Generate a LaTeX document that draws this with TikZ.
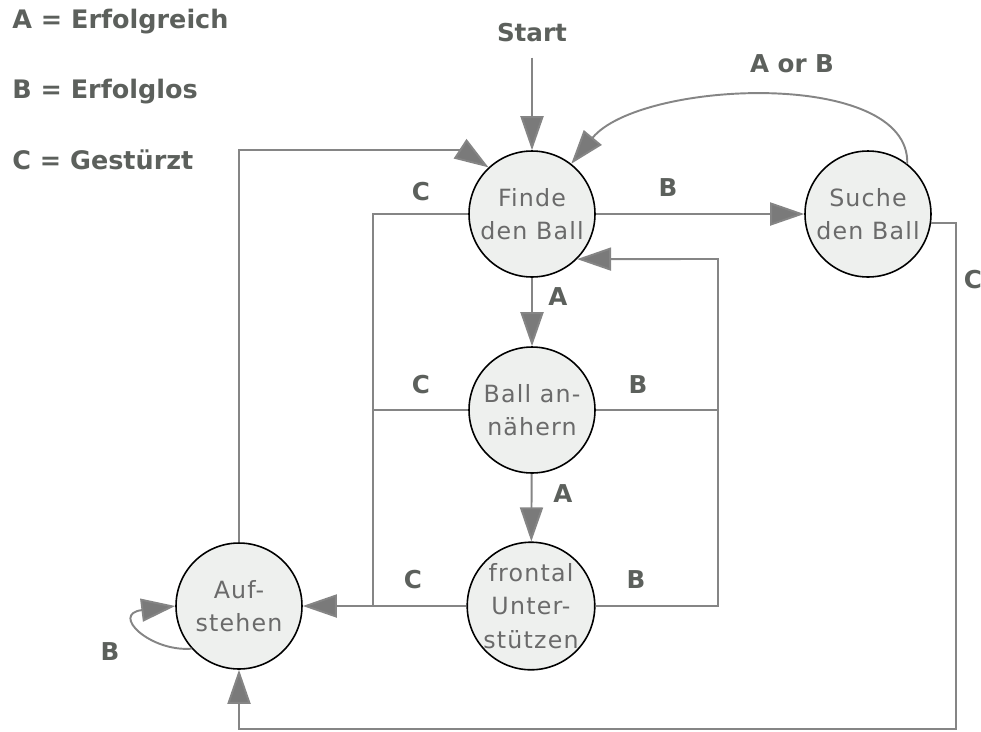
\documentclass[tikz,border=0pt]{standalone}
\usepackage{fontspec}
\setmainfont{DejaVu Sans}
\usetikzlibrary{arrows.meta}
\definecolor{wire}{HTML}{858585}
\definecolor{tipfill}{HTML}{7A7A7A}
\definecolor{statefill}{HTML}{EEF0EE}
\definecolor{statetext}{HTML}{6A6A6A}
\definecolor{labeltext}{HTML}{5C605C}
\tikzset{
  state/.style={circle, draw=black, line width=0.9pt, fill=statefill,
    minimum size=2.52cm, inner sep=0pt, align=center, text=statetext,
    font=\fontsize{13.5}{19}\selectfont\addfontfeatures{LetterSpace=5}},
  lbl/.style={text=labeltext, font=\fontsize{14}{16}\selectfont\bfseries, inner sep=0pt},
  legend/.style={lbl, anchor=west, font=\fontsize{14.5}{16}\selectfont\bfseries},
  wireline/.style={draw=wire, line width=1.1pt},
  arr/.style={wireline, -{Triangle[length=0.68cm, width=0.46cm, fill=tipfill]}}
}
\begin{document}
\begin{tikzpicture}[x=0.02cm, y=-0.02cm]
  \useasboundingbox (0,0) rectangle (981,731);

  % legend
  \node[legend] (la) at (12,22)  {A = Erfolgreich};
  \node[legend] (lb) at (12,92)  {B = Erfolglos};
  \node[legend] (lc) at (12,160) {C = Gestürzt};

  % states
  \node[state] (finde) at (532,214) {Finde\\den Ball};
  \node[state] (suche) at (868,214) {Suche\\den Ball};
  \node[state] (ball)  at (532,410) {Ball an-\\nähern};
  \node[state] (front) at (531,606) {frontal\\Unter-\\stützen};
  \node[state] (auf)   at (239,606) {Auf-\\stehen};

  % start
  \node[lbl] (start) at (532,33) {Start};
  \draw[arr, shorten <=0.3cm] (start.south) -- (finde.north);

  % successful transitions
  \draw[arr] (finde) -- (ball);
  \draw[arr] (ball) -- (front);

  % unsuccessful transitions
  \draw[arr] (finde) -- (suche);
  \coordinate (bk) at (718,259);
  \draw[wireline] (ball.east) -- (ball.east -| bk);
  \draw[arr] (front.east) -| (bk) -- (finde.-45);
  \draw[arr] (suche.52) .. controls (910,68) and (640,80) .. (finde.52);

  % falls
  \coordinate (ck) at (373,214);
  \draw[wireline] (finde.west) -- (ck) -- (ck |- front.west);
  \draw[wireline] (ball.west) -- (ball.west -| ck);
  \draw[arr] (front.west) -- (auf.east);
  \coordinate (rk) at (956,729);
  \draw[arr] (suche.-8) -| (rk) -| (auf.south);

  % getting up
  \coordinate (uk) at (462,150);
  \draw[arr] (auf.north) |- (uk) -- (finde.133);
  \draw[arr] (auf.222) .. controls (150,652) and (110,614) .. (auf.west);

  % transition labels
  \node[lbl] (t1) at (792,64)  {A or B};
  \node[lbl] (t2) at (668,188) {B};
  \node[lbl] (t3) at (421,192) {C};
  \node[lbl] (t4) at (558,297) {A};
  \node[lbl] (t5) at (421,385) {C};
  \node[lbl] (t6) at (638,385) {B};
  \node[lbl] (t7) at (563,494) {A};
  \node[lbl] (t8) at (413,580) {C};
  \node[lbl] (t9) at (636,580) {B};
  \node[lbl] (t10) at (110,652) {B};
  \node[lbl] (t11) at (973,280) {C};
\end{tikzpicture}
\end{document}
